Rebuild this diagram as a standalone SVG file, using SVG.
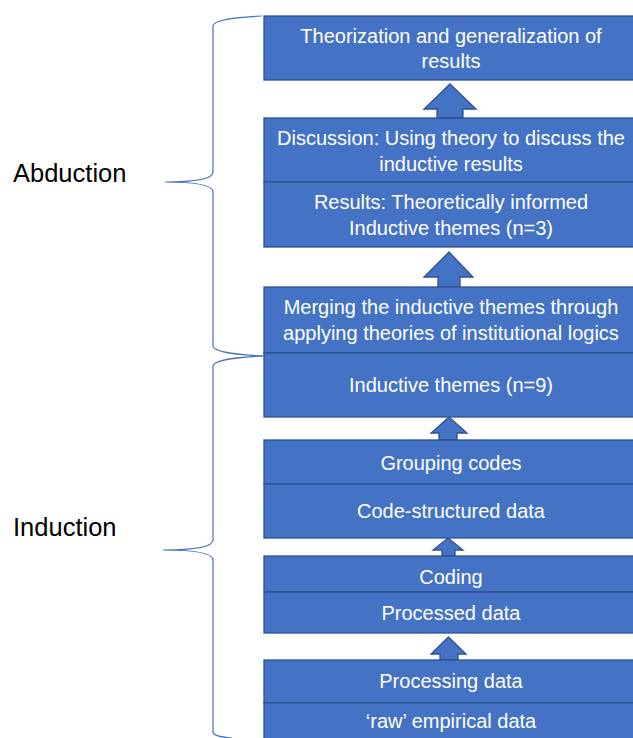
<svg xmlns="http://www.w3.org/2000/svg" width="633" height="738" viewBox="0 0 633 738">
<style>
.box{fill:#4472C4;stroke:#2F528F;stroke-width:1.3}
.arr{fill:#4472C4;stroke:#2F528F;stroke-width:1.3;stroke-linejoin:miter}
.t{font-family:"Liberation Sans",Arial,sans-serif;font-size:20px;fill:#ffffff;text-anchor:middle}
.lbl{font-family:"Liberation Sans",Arial,sans-serif;font-size:25.5px;fill:#000000}
.brace{fill:none;stroke:#4472C4;stroke-width:1.2}
</style>
<rect width="633" height="738" fill="#ffffff"/>
<g id="braces">
<path class="brace" d="M262,16 C240,17 213,19 213,26 L213,172 C213,178 200,182 165,182 C200,182 213,186 213,192 L213,346 C213,352 240,355 263,356"/>
<path class="brace" d="M263,356 C240,357 213,360 213,366 L213,540 C213,546 200,550 163,550 C200,550 213,554 213,560 L213,732 C213,736 222,737 232,738"/>
</g>
<g id="label-abduction"><text class="lbl" x="13" y="182">Abduction</text></g>
<g id="label-induction"><text class="lbl" x="13" y="536">Induction</text></g>
<g id="connectors">
<polygon class="arr" points="450,84 476,109 463,109 463,118 437,118 437,109 424,109"/>
<polygon class="arr" points="449,252 473,277 460,277 460,287 438,287 438,277 424,277"/>
<polygon class="arr" points="449,417 467,433 457,433 457,440 439,440 439,433 431,433"/>
<polygon class="arr" points="448,538 463,550 455,550 455,556 442,556 442,550 433,550"/>
<polygon class="arr" points="448.5,637 466,654 458,654 458,660 440,660 440,654 431,654"/>
</g>
<g id="node-theorization">
<rect class="box" x="264" y="16" width="376" height="64"/>
<text class="t" x="451" y="43">Theorization and generalization of</text>
<text class="t" x="451" y="68">results</text>
</g>
<g id="node-discussion">
<rect class="box" x="264" y="118" width="376" height="64"/>
<text class="t" x="451" y="145">Discussion: Using theory to discuss the</text>
<text class="t" x="451" y="171">inductive results</text>
</g>
<g id="node-results">
<rect class="box" x="264" y="182" width="376" height="65"/>
<text class="t" x="451" y="209">Results: Theoretically informed</text>
<text class="t" x="451" y="235">Inductive themes (n=3)</text>
</g>
<g id="node-merging">
<rect class="box" x="264" y="287" width="376" height="66"/>
<text class="t" x="451" y="314">Merging the inductive themes through</text>
<text class="t" x="451" y="340">applying theories of institutional logics</text>
</g>
<g id="node-inductive-themes">
<rect class="box" x="264" y="353" width="376" height="64"/>
<text class="t" x="451" y="392">Inductive themes (n=9)</text>
</g>
<g id="node-grouping">
<rect class="box" x="264" y="440" width="376" height="44"/>
<text class="t" x="451" y="470">Grouping codes</text>
</g>
<g id="node-code-structured">
<rect class="box" x="264" y="484" width="376" height="54"/>
<text class="t" x="451" y="518">Code-structured data</text>
</g>
<g id="node-coding">
<rect class="box" x="264" y="556" width="376" height="36"/>
<text class="t" x="451" y="584">Coding</text>
</g>
<g id="node-processed">
<rect class="box" x="264" y="592" width="376" height="41"/>
<text class="t" x="451" y="620">Processed data</text>
</g>
<g id="node-processing">
<rect class="box" x="264" y="660" width="376" height="43"/>
<text class="t" x="451" y="688">Processing data</text>
</g>
<g id="node-raw">
<rect class="box" x="264" y="703" width="376" height="45"/>
<text class="t" x="451" y="728">‘raw’ empirical data</text>
</g>
</svg>
